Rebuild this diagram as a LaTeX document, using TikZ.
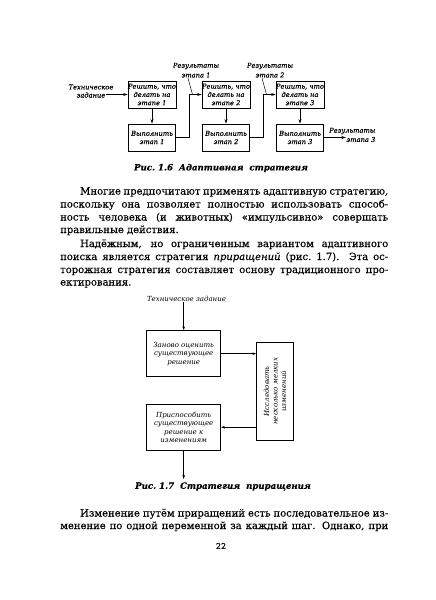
\documentclass[tikz,border=0pt]{standalone}
\usepackage{fontspec}
\setmainfont{DejaVu Serif}[FakeBold=0.3]
\newfontfamily\lightfont{DejaVu Serif}
\usetikzlibrary{arrows.meta}
\tikzset{
  box/.style={draw, line width=0.9pt, minimum width=47pt, minimum height=27pt, inner sep=0pt, align=center, font=\fontsize{6.7}{8.3}\selectfont\itshape},
  boxb/.style={draw, line width=0.7pt, inner sep=0pt, align=center, font=\lightfont\fontsize{7}{8.5}\selectfont\itshape},
  lbl/.style={inner sep=0.5pt, align=center, font=\fontsize{6.7}{8.3}\selectfont\itshape},
  arr/.style={-{Stealth[length=4.5pt,width=3pt]}, line width=0.8pt},
  arrb/.style={-{Stealth[length=4pt,width=2.6pt]}, line width=0.6pt},
  body/.style={anchor=base west, inner sep=0pt, font=\fontsize{10}{12}\selectfont},
  capt/.style={inner sep=0pt, font=\fontsize{8.6}{10}\selectfont\bfseries\itshape}
}
\begin{document}
\begin{tikzpicture}[x=1pt,y=-1pt]
\useasboundingbox[fill=white] (0,0) rectangle (436,600);

% ---------- Figure 1.6 ----------
\node[box] (r1) at (152,94.5) {Решить, что\\делать на\\этапе 1};
\node[box] (v1) at (152,137.5) {Выполнить\\этап 1};
\node[box] (r2) at (226,94.5) {Решить, что\\делать на\\этапе 2};
\node[box] (v2) at (226,137.5) {Выполнить\\этап 2};
\node[box] (r3) at (300,94.5) {Решить, что\\делать на\\этапе 3};
\node[box] (v3) at (300,137.5) {Выполнить\\этап 3};

\node[lbl] (tz1) at (91,87) {Техническое};
\node[lbl] (tz2) at (91,95) {задание};
\draw[arr] (tz2.east |- r1.west) -- (r1.west);

\draw[arr] (r1) -- (v1);
\draw[arr] (r2) -- (v2);
\draw[arr] (r3) -- (v3);

\draw[arr] (v1.east) -- ++(13,0) |- (r2.west);
\draw[arr] (v2.east) -- ++(13,0) |- (r3.west);

\node[lbl] (l1a) at (196,66) {Результаты};
\node[lbl] (l1b) at (196,75) {этапа 1};
\node[lbl] (l2a) at (270,66) {Результаты};
\node[lbl] (l2b) at (270,75) {этапа 2};
\coordinate (k1) at (192.5,94.5);
\coordinate (k2) at (266.5,94.5);
\draw[line width=0.5pt] (l1b.south -| 188,0) -- (k1);
\draw[line width=0.5pt] (l2b.south -| 262,0) -- (k2);

\node[lbl, anchor=east] (o1) at (376,131) {Результаты};
\node[lbl, anchor=east] (o2) at (376,139.5) {этапа 3};
\draw[arr] (v3.east) -- (v3.east -| o2.west);

\node[capt] (c1) at (221,168) {Рис.\ 1.6\ \ Адаптивная\ \ стратегия};

% ---------- Body text ----------
\node[body] (p1) at (80,194.5) {\makebox[308pt][s]{Многие предпочитают применять адаптивную стратегию,}};
\node[body] (p2) at (60,207.5) {\makebox[328pt][s]{поскольку она позволяет полностью использовать способ-}};
\node[body] (p3) at (60,220.5) {\makebox[328pt][s]{ность человека (и животных) «импульсивно» совершать}};
\node[body] (p4) at (60,233) {правильные действия.};
\node[body] (p5) at (80,247) {\makebox[308pt][s]{Надёжным, но ограниченным вариантом адаптивного}};
\node[body] (p6) at (60,260) {\makebox[328pt][s]{поиска является стратегия \textit{приращений} (рис.~1.7). Эта ос-}};
\node[body] (p7) at (60,273) {\makebox[328pt][s]{торожная стратегия составляет основу традиционного про-}};
\node[body] (p8) at (60,285.5) {ектирования.};

% ---------- Figure 1.7 ----------
\node[lbl, font=\lightfont\fontsize{7}{8.5}\selectfont\itshape] (tzb) at (186.5,299) {Техническое задание};
\node[boxb, minimum width=74pt, minimum height=46pt] (A) at (183.7,353.7) {Заново оценить\\существующее\\решение};
\node[boxb, minimum width=36.6pt, minimum height=97.7pt] (C) at (275,391.2) {};
\node[boxb, draw=none, rotate=90] (Ct) at (C.center) {Исследовать\\несколько мелких\\изменений};
\node[boxb, minimum width=74pt, minimum height=45.7pt] (B) at (183.7,427.2) {Приспособить\\существующее\\решение к\\изменениям};
\coordinate (out) at (183.7,479);

\draw[arrb] (tzb.south -| A.north) -- (A.north);
\draw[arrb] (A.east) -- (A.east -| C.west);
\draw[arrb] (C.west |- B.east) -- (B.east);
\draw[arrb] (B.south) -- (out);

\node[capt] (c2) at (223,486.5) {Рис.\ 1.7\ \ Стратегия\ \ приращения};

% ---------- Body text ----------
\node[body] (q1) at (80,516.5) {\makebox[308pt][s]{Изменение путём приращений есть последовательное из-}};
\node[body] (q2) at (60,529) {\makebox[328pt][s]{менение по одной переменной за каждый шаг. Однако, при}};
\node[inner sep=0pt, font=\fontsize{8}{10}\selectfont] (pg) at (221,546) {22};
\end{tikzpicture}
\end{document}
